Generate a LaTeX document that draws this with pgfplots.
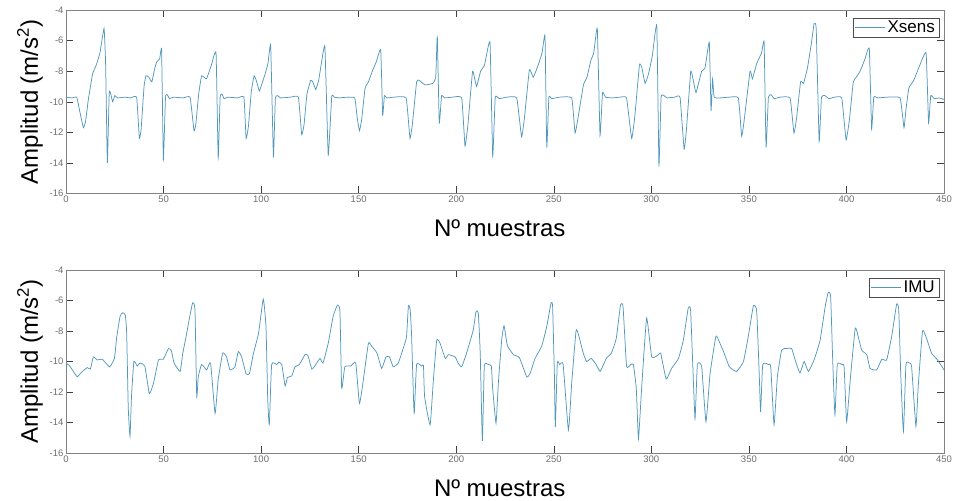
\documentclass[border=0pt]{standalone}
\usepackage{pgfplots}
\pgfplotsset{compat=1.18}
\usepackage{fontspec}
\setmainfont{Liberation Sans}
\definecolor{sig}{RGB}{82,152,188}
\definecolor{tickgray}{RGB}{110,110,110}
\definecolor{boxgray}{RGB}{130,130,130}

\pgfplotstableread{
x y
0 -9.7
3 -9.75
5.5 -9.7
7 -10.6
8.9 -11.7
10 -11.3
11.4 -9.9
13.6 -8.2
15.5 -7.6
17.4 -6.8
19.5 -5.2
20.3 -7.5
21.2 -14.0
22.2 -9.3
23.9 -10.0
25 -9.6
26.5 -9.75
30 -9.7
33 -9.75
36.2 -9.7
37.6 -12.4
38.5 -11.8
40 -9.0
41 -8.3
42.5 -8.4
44 -8.7
45.5 -7.8
46.5 -7.4
48 -7.2
49 -6.6
49.9 -13.8
51 -9.7
52 -9.55
53 -9.8
55 -9.7
60 -9.75
63.6 -9.7
65.6 -11.9
66.5 -11.5
68 -9.5
69.5 -8.3
72 -8.5
74.5 -7.6
76.9 -6.8
78 -13.7
79 -9.7
80 -9.5
81 -9.8
83 -9.7
88 -9.75
91.2 -9.7
92.3 -12.4
93.5 -11.6
95 -9.3
96.4 -8.3
97.5 -8.6
99.1 -9.3
100.5 -8.8
102 -8.2
103.5 -7.5
104.9 -6.3
106.3 -13.6
107.3 -9.8
108.5 -9.6
110 -9.75
115 -9.7
119.1 -9.7
120.8 -12.15
122 -11.5
123.5 -9.5
125.4 -8.6
126.5 -8.7
128 -9.2
129.5 -8.6
131 -7.4
132.7 -6.4
134.4 -13.5
136.2 -9.65
137.5 -9.7
140 -9.75
144 -9.7
148 -9.75
149.2 -11.0
150.4 -11.9
151.5 -11.2
153.3 -9.1
155 -8.7
157 -8.0
159 -7.4
161.3 -6.6
162.3 -10.9
163.2 -9.6
164.5 -9.75
168 -9.7
174.3 -9.75
176.3 -12.4
177.5 -11.5
179.7 -8.7
181 -8.6
184 -8.9
188 -8.8
189.5 -8.4
190.3 -5.7
191.3 -11.4
192.5 -9.6
194 -9.75
198 -9.7
202.8 -9.75
204.5 -12.9
206 -11.5
208.4 -8.0
210.4 -9.0
212.5 -8.0
214.5 -7.6
217.3 -6.1
218.7 -13.6
220 -9.7
222 -9.8
226 -9.7
231 -9.75
233.5 -12.3
235 -11.0
237.5 -7.9
239.5 -8.4
242 -7.6
244 -6.8
245.5 -5.7
246.4 -13.0
247.5 -9.7
249 -9.8
253 -9.7
259.2 -9.75
260.9 -12.05
262.5 -11.0
265.2 -8.9
267 -8.4
269 -7.3
270.5 -6.8
272.3 -5.2
273.7 -12.2
275 -9.4
276.5 -9.7
280 -9.75
284 -9.7
287.3 -9.75
289.9 -12.4
291.5 -11.0
293.9 -7.6
295 -7.7
296.8 -8.8
298.5 -8.2
300.5 -7.0
302.8 -5.0
303.9 -14.2
305 -9.7
306.5 -9.6
308 -9.75
312 -9.7
314.7 -9.7
316.8 -13.1
318 -11.8
320.2 -8.0
321.5 -8.6
322.9 -9.4
325.8 -8.0
327.5 -7.8
329.7 -6.1
330.6 -10.6
331.4 -8.5
332.2 -9.7
335 -9.75
340 -9.7
344.6 -9.75
346.3 -12.25
347.5 -11.3
350.6 -8.0
351.8 -8.5
354 -7.5
356.5 -6.8
357.8 -6.1
358.8 -13.0
360 -9.7
361.5 -9.55
363 -9.8
366 -9.7
371.1 -9.75
373.1 -12.05
374.5 -11.0
376.5 -8.7
378 -8.8
380 -7.8
382 -6.2
383.4 -4.9
384.5 -5.2
386 -12.6
387.2 -9.7
389 -9.6
391 -9.8
394 -9.7
397.6 -9.75
399.8 -12.5
401.5 -11.2
403.5 -8.7
405 -8.4
407 -8.0
409.5 -7.2
411.7 -6.5
412.9 -11.8
414 -9.7
416 -9.75
421 -9.7
427.5 -9.75
429.5 -11.7
430.5 -10.5
432 -9.1
434.5 -8.6
437 -7.8
440.8 -6.8
442.1 -11.4
443.2 -9.6
445 -9.8
447.5 -9.75
450 -9.85
}\xsens

\pgfplotstableread{
x y
0 -10.1
2 -10.3
4 -10.7
5.8 -11.0
8 -10.7
10.9 -10.4
12.5 -10.5
14 -9.7
16 -9.9
18.6 -9.85
22.3 -10.35
24.8 -9.8
26 -8.4
27.7 -7.05
29 -6.8
30.4 -6.95
31.1 -8.15
31.9 -13.0
32.8 -14.9
33.6 -12.2
34.8 -10.0
36.5 -10.3
37.9 -10.1
40.4 -10.3
42.7 -12.1
44.8 -11.45
47.4 -9.9
49.9 -9.85
52.5 -9.15
54 -9.3
55.4 -10.1
58.5 -10.65
59.8 -9.5
61.5 -8.4
63.2 -7.2
64.9 -6.15
66.1 -6.6
67 -12.3
67.8 -11.0
69.5 -10.2
72.1 -10.55
74.1 -10.1
76.4 -13.4
78 -11.2
80.3 -9.45
82.3 -9.7
84 -10.55
86.6 -10.35
88.3 -9.35
90 -9.7
92.3 -10.8
94 -10.8
96.1 -9.45
98.7 -8.15
101.1 -5.9
102.5 -7.7
103.4 -12.5
104.2 -14.15
105.4 -10.2
108 -10.2
109 -10.05
110.6 -10.2
112.3 -11.6
113.5 -11.05
115.7 -10.95
117.4 -10.35
119.6 -10.2
122.5 -9.55
124 -9.6
126 -10.5
128 -10.2
130.2 -9.8
131.7 -10.1
134.4 -8.8
136.9 -7.05
139.1 -6.3
140.4 -6.7
141.3 -11.75
142.9 -10.35
145.9 -10.3
148.5 -10.1
150.4 -12.75
152.4 -11.2
155 -8.8
156.7 -9.0
159.4 -9.45
161.8 -10.45
164 -9.7
165.8 -9.7
167.7 -10.35
170.3 -10.1
172.8 -9.15
174.5 -8.4
175.5 -6.35
176.4 -6.6
177.1 -8.2
178 -12.0
178.5 -13.4
179.7 -10.2
182.3 -10.3
183.2 -10.25
183.8 -12.3
186.6 -14.15
188.3 -11.2
190 -8.6
191.7 -8.8
194.4 -9.8
196 -9.55
199.4 -9.7
201 -10.1
202.8 -10.35
205.3 -9.45
208.7 -7.95
210.1 -6.75
211.3 -6.8
212.3 -9.45
213.4 -15.2
214.4 -10.3
216.4 -10.2
218 -10.3
218.7 -11.8
220.4 -14.05
221.6 -11.4
223.3 -8.6
224.5 -7.65
226.2 -8.95
229.3 -9.55
232.4 -9.75
236.1 -11.0
237.8 -10.8
240.4 -9.8
243.8 -9.0
246.4 -7.7
248.6 -6.15
249.4 -6.4
250.3 -10.8
250.8 -14.3
251.8 -10.1
253 -10.2
254.8 -10.2
257.5 -14.5
259.2 -11.4
261.4 -8.0
262.6 -8.2
265.1 -9.45
266.8 -10.0
269.2 -9.8
271.7 -10.2
273.8 -10.65
276.9 -9.8
279.5 -9.45
282 -8.5
284.2 -6.3
285.5 -6.4
287.3 -10.3
289.4 -10.2
290.8 -10.2
292.3 -11.8
293.4 -15.05
295.1 -11.6
297.6 -7.15
300.2 -9.7
303.7 -9.55
304.8 -9.45
307.6 -11.15
310.4 -10.45
313.9 -9.8
316.4 -8.6
318.9 -6.5
320.1 -6.6
321.2 -10.1
322.4 -13.75
323.6 -10.2
325.8 -10.35
328.0 -13.95
330.1 -10.8
333.1 -8.35
334.8 -8.7
337.0 -9.35
340.0 -10.35
343.7 -10.65
347.2 -10.0
349.7 -8.35
352.3 -6.35
354.0 -6.7
355.4 -11.2
356.0 -13.3
357.1 -10.2
360.0 -10.2
361.2 -10.35
362.9 -14.15
364.6 -11.0
366.8 -9.25
369.4 -9.15
371.9 -9.15
374.2 -10.1
376.2 -10.75
378.3 -10.0
380.5 -10.65
383.4 -9.9
386.5 -8.6
389.1 -6.4
390.7 -5.45
391.9 -5.75
392.9 -9.7
394.1 -13.5
395.3 -10.2
397.6 -10.2
398.8 -10.35
400.1 -13.95
401.8 -11.4
404.4 -7.9
405.3 -8.0
407.8 -9.25
410.4 -9.55
412.1 -10.45
415.5 -10.55
418.1 -9.85
420.6 -9.9
423.2 -8.35
425.7 -6.25
426.8 -6.6
427.8 -10.75
429.2 -14.6
430.5 -10.2
432.2 -10.1
433.4 -10.35
435.6 -14.25
436.8 -11.6
439.0 -8.0
441.1 -8.5
443.6 -9.45
446.7 -9.9
450 -10.55
}\imu

\pgfplotsset{
  myaxis/.style={
    scale only axis,
    width=878pt,
    xmin=0, xmax=450,
    ymin=-16, ymax=-4,
    xtick={0,50,...,450},
    ytick={-16,-14,...,-4},
    tick align=inside,
    major tick length=7pt,
    every tick/.style={draw=black!75, line width=0.4pt},
    axis line style={draw=boxgray, line width=0.6pt},
    /pgf/number format/assume math mode=true,
    ticklabel style={font=\fontsize{9.5}{10}\selectfont, text=tickgray},
    xticklabel style={yshift=1pt},
    yticklabel style={xshift=1pt},
    xlabel={Nº muestras},
    ylabel={Amplitud (m/s\textsuperscript{2})},
    label style={font=\fontsize{24}{26}\selectfont},
    ylabel style={at={(axis description cs:-0.041,0.5)}, anchor=center},
    xlabel style={at={(axis description cs:0.494,-0.235)}, anchor=base},
    legend style={at={(axis description cs:1,1)}, anchor=north east,
      xshift=-5pt, yshift=-8pt, draw=black!70, line width=0.5pt,
      font=\fontsize{17}{18}\selectfont, inner xsep=2pt, inner ysep=1pt},
    legend image code/.code={\draw[#1] (0pt,0pt) -- (30pt,0pt);},
    legend cell align=left,
  }
}

\begin{document}
\begin{tikzpicture}
\useasboundingbox (0,0) rectangle (954pt,501pt);
\begin{axis}[myaxis, at={(66pt,307.5pt)}, anchor=south west, height=183.5pt]
\addplot[sig, line width=0.75pt, smooth, tension=0.2] table[x=x,y=y] {\xsens};
\addlegendentry{Xsens}
\end{axis}
\begin{axis}[myaxis, at={(66pt,48pt)}, anchor=south west, height=183pt]
\addplot[sig, line width=0.75pt, smooth, tension=0.25] table[x=x,y=y] {\imu};
\addlegendentry{IMU}
\end{axis}
\end{tikzpicture}
\end{document}
